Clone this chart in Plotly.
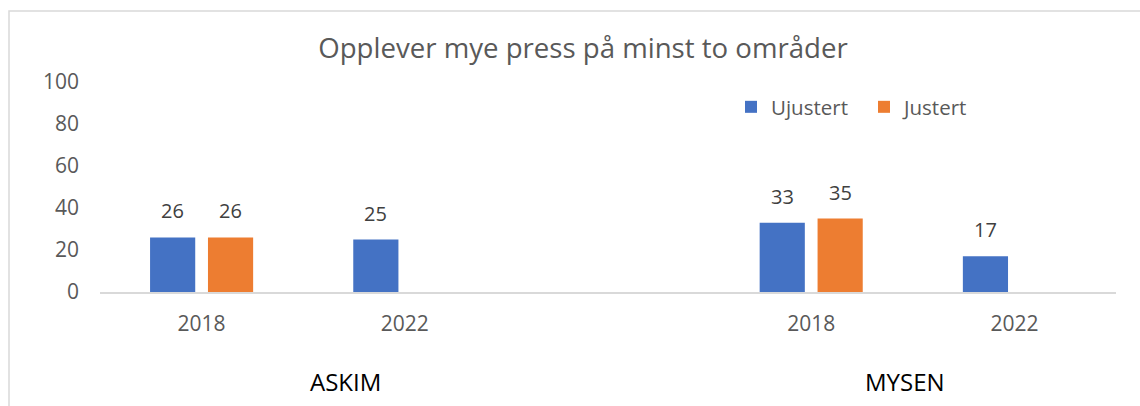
import plotly.graph_objects as go

categories = ["ASKIM 2018", "ASKIM 2022", " ", "MYSEN 2018", "MYSEN 2022"]
year_labels = ["2018", "2022", "", "2018", "2022"]
groups = ["ASKIM", "MYSEN"]
series_names = ["Ujustert", "Justert"]
ujustert = [26, 25, None, 33, 17]
justert = [26, None, None, 35, None]
y_ticks = [0, 20, 40, 60, 80, 100]
colors = ["#4472C4", "#ED7D31"]

W, H = 1140, 406
L, R, T, B = 100, 24, 82, 114
pw, ph = W - L - R, H - T - B
BARGAP = 0.43

def px_x(x):
    return (x - L) / pw

def px_y(y):
    return (H - B - y) / ph

FONT = "Open Sans"

fig = go.Figure()
for s, (name, vals) in enumerate(zip(series_names, [ujustert, justert])):
    fig.add_trace(go.Bar(name=name, x=categories, y=vals, marker_color=colors[s],
                         marker_line_width=0))

annotations = []
# data labels, placed above each bar's slot in the group
for s, vals in enumerate([ujustert, justert]):
    for i, v in enumerate(vals):
        if v is None:
            continue
        annotations.append(dict(
            text=str(v), x=i + (s - 0.5) * (1 - BARGAP) / 2, y=v, xref="x", yref="y",
            showarrow=False, xanchor="center", yanchor="bottom", yshift=11,
            font=dict(family=FONT, size=20, color="#404040")))

for g, xc in zip(groups, [345, 905]):
    annotations.append(dict(text=g, x=px_x(xc), y=px_y(381), xref="paper", yref="paper",
                            showarrow=False, xanchor="center", yanchor="middle",
                            font=dict(family=FONT, size=24, color="#000000")))

fig.update_layout(
    width=W, height=H,
    margin=dict(l=L, r=R, t=T, b=B),
    paper_bgcolor="white", plot_bgcolor="white",
    barmode="group", bargap=BARGAP, bargroupgap=0.22,
    title=dict(text="Opplever mye press på minst to områder", x=583 / W, xref="container",
               y=1 - 48 / H, yref="container", xanchor="center", yanchor="middle",
               font=dict(family=FONT, size=27.6, color="#595959")),
    legend=dict(orientation="h", x=px_x(731), y=px_y(107), xanchor="left", yanchor="middle",
                font=dict(family=FONT, size=20.5, color="#595959"), bgcolor="rgba(0,0,0,0)",
                itemwidth=30, traceorder="normal", entrywidth=88, entrywidthmode="pixels"),
    xaxis=dict(type="category", categoryorder="array", categoryarray=categories,
               tickvals=categories, ticktext=year_labels, showline=True, linecolor="#D9D9D9",
               linewidth=1.5, ticks="", showgrid=False, ticklabelstandoff=12,
               tickfont=dict(family=FONT, size=21, color="#595959")),
    yaxis=dict(range=[0, 100], tickvals=y_ticks, showgrid=False, zeroline=False,
               showline=False, ticks="", ticklabelstandoff=20,
               tickfont=dict(family=FONT, size=21, color="#595959")),
    annotations=annotations,
    shapes=[dict(type="rect", xref="paper", yref="paper", x0=px_x(9), x1=px_x(1160),
                 y0=px_y(430), y1=px_y(11), line=dict(color="#D9D9D9", width=1.5),
                 fillcolor="rgba(0,0,0,0)", layer="below")],
)

fig.write_html("out.html")
